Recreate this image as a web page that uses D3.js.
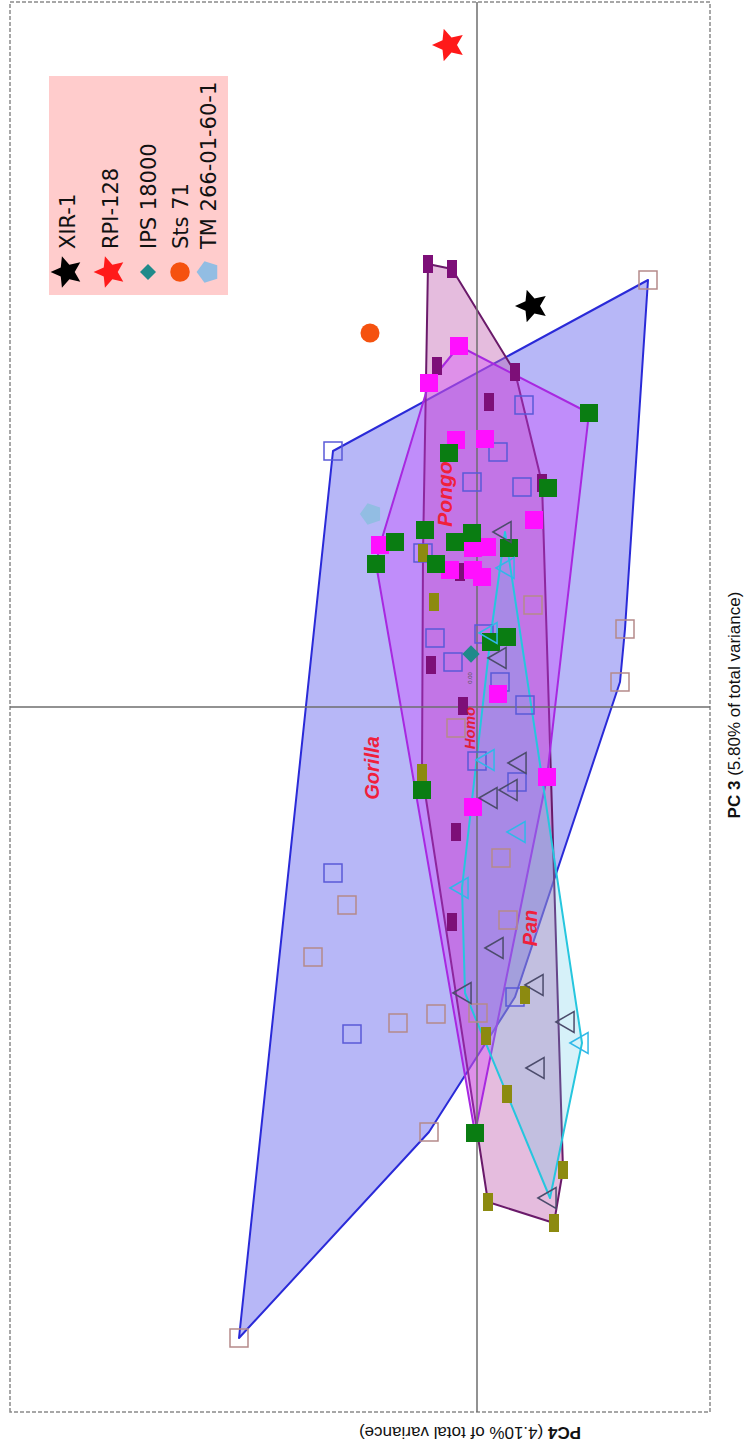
<!DOCTYPE html>
<html>
<head>
<meta charset="utf-8">
<script src="https://cdn.jsdelivr.net/npm/d3@7"></script>
<style>
  body { margin: 0; background: #fff; }
  svg { display: block; }
</style>
</head>
<body>
<svg id="chart" width="744" height="1454"></svg>
<script>
// Principal component scores, each point is [PC3, PC4]

// Gorilla, two subsamples (open squares)
const gorillaBlue = [
  [0.256, 0.144], [0.302, -0.047], [0.255, -0.021], [0.220, -0.045],
  [0.225, 0.005], [0.154, 0.054], [0.069, 0.042], [0.045, 0.024],
  [0.073, -0.007], [0.025, -0.023], [0.002, -0.048], [-0.054, 0.000],
  [-0.075, -0.040], [-0.166, 0.144], [-0.327, 0.125], [-0.290, -0.038]
];
const gorillaRose = [
  [0.427, -0.171], [0.102, -0.056], [0.078, -0.148], [0.025, -0.143],
  [-0.021, 0.021], [-0.151, -0.024], [-0.213, -0.031], [-0.198, 0.130],
  [-0.250, 0.164], [-0.316, 0.079], [-0.307, 0.041], [-0.306, -0.001],
  [-0.425, 0.048], [-0.631, 0.238]
];

// Pongo, two subsamples (filled squares)
const pongoMagenta = [
  [0.361, 0.018], [0.324, 0.048], [0.267, 0.021], [0.268, -0.008],
  [0.187, -0.057], [0.162, 0.097], [0.159, 0.004], [0.160, -0.010],
  [0.137, 0.027], [0.137, 0.004], [0.130, -0.005], [0.013, -0.021],
  [-0.100, 0.004], [-0.070, -0.070]
];
const pongoGreen = [
  [0.294, -0.112], [0.219, -0.071], [0.254, 0.028], [0.177, 0.052],
  [0.165, 0.082], [0.143, 0.101], [0.143, 0.041], [0.165, 0.022],
  [0.174, 0.005], [0.159, -0.032], [0.065, -0.014], [0.070, -0.030],
  [-0.083, 0.055], [-0.426, 0.002]
];

// Homo, two subsamples (narrow bars)
const homoPurple = [
  [0.443, 0.049], [0.438, 0.025], [0.341, 0.040], [0.335, -0.038],
  [0.305, -0.012], [0.224, -0.065], [0.135, 0.017], [0.042, 0.046],
  [0.001, 0.014], [-0.125, 0.021], [-0.215, 0.025]
];
const homoOlive = [
  [0.154, 0.054], [0.105, 0.043], [-0.066, 0.055], [-0.288, -0.048],
  [-0.329, -0.009], [-0.387, -0.030], [-0.463, -0.086], [-0.495, -0.011],
  [-0.516, -0.077]
];

// Pan, two subsamples (open triangles)
const panDark = [
  [0.175, -0.028], [0.049, -0.023], [-0.056, -0.043], [-0.083, -0.034],
  [-0.091, -0.014], [-0.241, -0.020], [-0.286, 0.012], [-0.278, -0.060],
  [-0.315, -0.091], [-0.361, -0.061], [-0.491, -0.073]
];
const panCyan = [
  [0.139, -0.031], [0.074, -0.014], [-0.053, -0.011], [-0.125, -0.042],
  [-0.181, 0.015], [-0.336, -0.105]
];

// Fossil specimens
const fossilNames = ["XIR-1", "RPI-128", "IPS 18000", "Sts 71", "TM 266-01-60-1"];
const fossilScores = [[0.401, -0.055], [0.662, 0.028], [0.053, 0.006], [0.374, 0.107], [0.193, 0.106]];

// Genus labels and their anchor scores
const genusNames = ["Gorilla", "Pongo", "Homo", "Pan"];
const genusAnchors = [[-0.061, 0.105], [0.213, 0.032], [-0.021, 0.007], [-0.221, -0.053]];

const axisTitles = ["PC 3", " (5.80% of total variance)", "PC4", " (4.10% of total variance)"];
const tickLabels = ["0.00"];

// ---------------------------------------------------------------
// The plot is built in its native landscape frame and turned a
// quarter turn counter-clockwise onto the portrait page.
const PAGE_H = 1454;
const svg = d3.select("#chart");
const g = svg.append("g").attr("transform", `translate(0,${PAGE_H}) rotate(-90)`);

const x = d3.scaleLinear().domain([-0.705, 0.705]).range([42, 1452]);
const y = d3.scaleLinear().domain([-0.233, 0.467]).range([710, 10]);
const px = d => [x(d[0]), y(d[1])];

// regular polygon / star symbols (size = outer radius squared)
function polygonSymbol(n, inner) {
  return {
    draw(ctx, size) {
      const r = Math.sqrt(size);
      const k = inner ? 2 * n : n;
      for (let i = 0; i < k; i++) {
        const a = -Math.PI / 2 + i * 2 * Math.PI / k;
        const rr = inner && i % 2 ? r * inner : r;
        const X = rr * Math.cos(a), Y = rr * Math.sin(a);
        if (i === 0) ctx.moveTo(X, Y); else ctx.lineTo(X, Y);
      }
      ctx.closePath();
    }
  };
}
const symbolFatStar = polygonSymbol(5, 0.47);
const symbolPentagon = polygonSymbol(5, 0);

// plot frame
g.append("rect")
  .attr("x", x.range()[0]).attr("y", y.range()[1])
  .attr("width", x.range()[1] - x.range()[0])
  .attr("height", y.range()[0] - y.range()[1])
  .attr("fill", "#fff")
  .attr("stroke", "#8a8a8a").attr("stroke-width", 1.5)
  .attr("stroke-dasharray", "4,2");

// convex hulls
function hull(points, fill, fillOpacity, stroke) {
  const h = d3.polygonHull(points.map(px));
  g.append("path")
    .attr("d", "M" + h.join("L") + "Z")
    .attr("fill", fill).attr("fill-opacity", fillOpacity)
    .attr("stroke", stroke).attr("stroke-width", 2)
    .attr("stroke-linejoin", "round");
}
hull(gorillaBlue.concat(gorillaRose), "#7070f0", 0.5, "#2a2ad8");
hull(homoPurple.concat(homoOlive), "#c060b0", 0.42, "#6a1a6a");
hull(pongoMagenta.concat(pongoGreen), "#d040ff", 0.35, "#a828e0");
hull(panDark.concat(panCyan), "#5bc8e8", 0.25, "#26c6de");

// zero lines
g.append("line")
  .attr("x1", x(0)).attr("x2", x(0))
  .attr("y1", y.range()[1]).attr("y2", y.range()[0])
  .attr("stroke", "#6e6e6e").attr("stroke-width", 1.5);
g.append("line")
  .attr("x1", x.range()[0]).attr("x2", x.range()[1])
  .attr("y1", y(0)).attr("y2", y(0))
  .attr("stroke", "#6e6e6e").attr("stroke-width", 1.5);

g.append("text")
  .attr("x", x(0) + 29).attr("y", y(0) - 5)
  .attr("text-anchor", "middle")
  .attr("font-family", "Liberation Sans, Arial, sans-serif")
  .attr("font-size", 6).attr("fill", "#555")
  .text(tickLabels[0]);

// markers
function symbols(data, type, size, fill, stroke, sw, rot) {
  g.append("g").selectAll("path").data(data).join("path")
    .attr("transform", d => `translate(${x(d[0])},${y(d[1])})${rot ? " rotate(" + rot + ")" : ""}`)
    .attr("d", d3.symbol().type(type).size(size))
    .attr("fill", fill).attr("stroke", stroke).attr("stroke-width", sw);
}
function bars(data, color) {
  g.append("g").selectAll("rect").data(data).join("rect")
    .attr("x", d => x(d[0]) - 9).attr("y", d => y(d[1]) - 5)
    .attr("width", 18).attr("height", 10)
    .attr("fill", color);
}

symbols(gorillaBlue, d3.symbolSquare, 324, "none", "#5a5ad8", 1.5);
symbols(gorillaRose, d3.symbolSquare, 324, "none", "#b58a8a", 1.5);
bars(homoPurple, "#7d0f78");
bars(homoOlive, "#8c8a10");
symbols(pongoMagenta, d3.symbolSquare, 324, "#ff10ff", "none", 0);
symbols(pongoGreen, d3.symbolSquare, 324, "#0a7d12", "none", 0);
symbols(panDark, d3.symbolTriangle, 190, "none", "#4c4c6c", 1.5);
symbols(panCyan, d3.symbolTriangle, 190, "none", "#30b8e8", 1.5);

// fossil specimens
const fossilStyle = [
  { type: symbolFatStar, size: 290, legendSize: 270, fill: "#000000", rot: 0 },
  { type: symbolFatStar, size: 290, legendSize: 270, fill: "#ff1a1a", rot: 0 },
  { type: d3.symbolSquare, size: 150, legendSize: 128, fill: "#1f8a8a", rot: 45 },
  { type: d3.symbolCircle, size: 285, legendSize: 300, fill: "#f5520f", rot: 0 },
  { type: symbolPentagon, size: 125, legendSize: 130, fill: "#92bde3", rot: 0 }
];
fossilScores.forEach((d, i) => {
  const s = fossilStyle[i];
  symbols([d], s.type, s.size, s.fill, "none", 0, s.rot);
});

// genus labels
const genusStyle = [
  { size: 20, weight: "bold", color: "#f0203c" },
  { size: 21, weight: "bold", color: "#f0203c" },
  { size: 15, weight: "bold", color: "#e0203a" },
  { size: 20, weight: "bold", color: "#f0203c" }
];
genusNames.forEach((name, i) => {
  const s = genusStyle[i];
  g.append("text")
    .attr("x", x(genusAnchors[i][0])).attr("y", y(genusAnchors[i][1]))
    .attr("dy", "0.35em")
    .attr("text-anchor", "middle")
    .attr("font-family", "Liberation Sans, Arial, sans-serif")
    .attr("font-style", "italic").attr("font-weight", s.weight)
    .attr("font-size", s.size).attr("fill", s.color)
    .text(name);
});

// legend
const legend = g.append("g").attr("transform", "translate(1159,49)");
legend.append("rect").attr("width", 219).attr("height", 179).attr("fill", "#ffcccc");
const rowY = [18, 61, 99, 131, 159];
fossilNames.forEach((name, i) => {
  const s = fossilStyle[i];
  legend.append("path")
    .attr("transform", `translate(23,${rowY[i]})${s.rot ? " rotate(" + s.rot + ")" : ""}`)
    .attr("d", d3.symbol().type(s.type).size(s.legendSize))
    .attr("fill", s.fill);
  legend.append("text")
    .attr("x", 46).attr("y", rowY[i]).attr("dy", "0.36em")
    .attr("font-family", "DejaVu Sans, Verdana, sans-serif")
    .attr("font-size", 21).attr("fill", "#111")
    .text(name);
});

// axis titles
const xTitle = g.append("text")
  .attr("x", 749).attr("y", 740)
  .attr("text-anchor", "middle")
  .attr("font-family", "Liberation Sans, Arial, sans-serif")
  .attr("font-size", 17).attr("fill", "#111");
xTitle.append("tspan").attr("font-weight", "bold").text(axisTitles[0]);
xTitle.append("tspan").text(axisTitles[1]);

const yTitle = g.append("text")
  .attr("transform", "translate(27,470) rotate(-90)")
  .attr("text-anchor", "middle")
  .attr("font-family", "Liberation Sans, Arial, sans-serif")
  .attr("font-size", 17).attr("fill", "#111");
yTitle.append("tspan").attr("font-weight", "bold").text(axisTitles[2]);
yTitle.append("tspan").text(axisTitles[3]);
</script>
</body>
</html>
